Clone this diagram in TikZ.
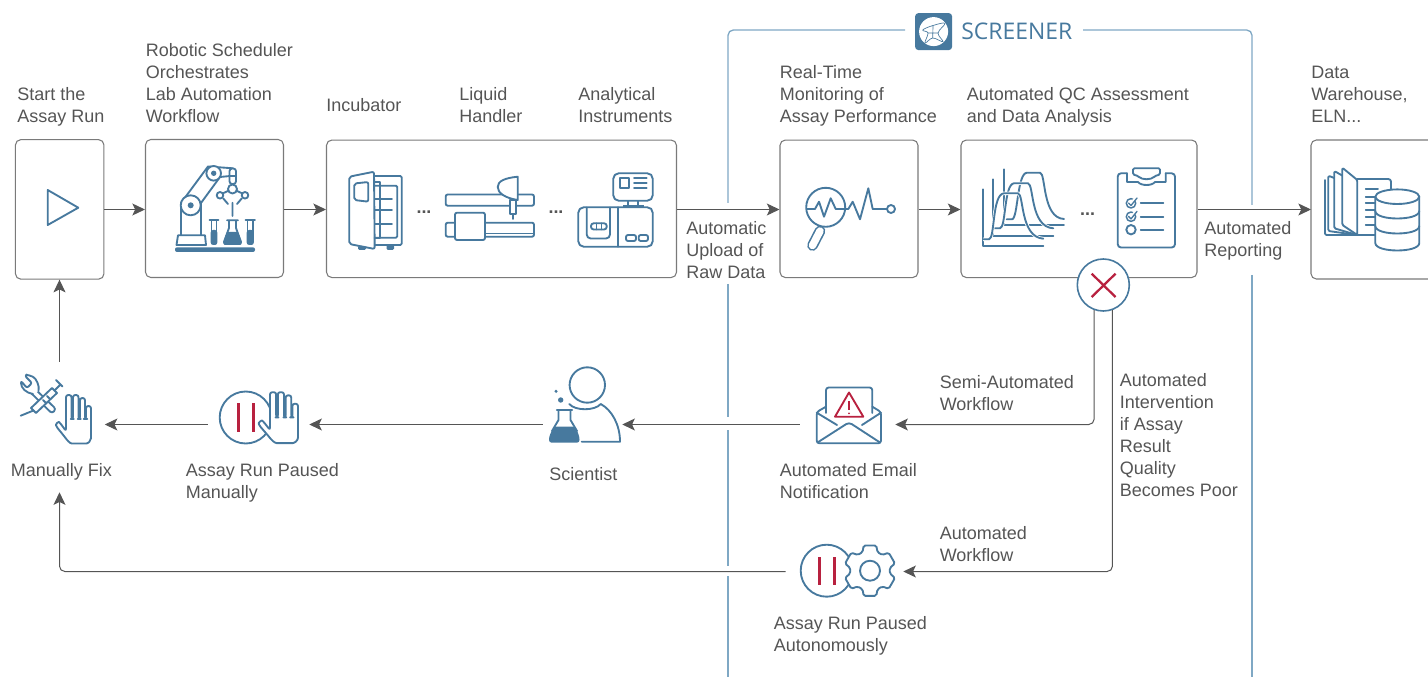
\documentclass[tikz,border=0pt]{standalone}
\usepackage{fontspec}
\setmainfont{Liberation Sans}
\newfontfamily\logofont{Open Sans}
\usetikzlibrary{arrows.meta,calc}
\definecolor{iblue}{HTML}{47799E}
\definecolor{fblue}{HTML}{7FA8C4}
\definecolor{ired}{HTML}{B8213F}
\definecolor{tgray}{HTML}{555555}
\definecolor{bgray}{HTML}{7A7A7A}
\tikzset{
  boxnode/.style 2 args={draw=bgray,line width=0.8pt,rounded corners=4pt,fill=white,inner sep=0pt,minimum width=#1*0.75pt,minimum height=#2*0.75pt},
  anch/.style 2 args={inner sep=0pt,minimum width=#1*0.75pt,minimum height=#2*0.75pt},
  lbl/.style={font=\fontsize{13.5}{16.5}\selectfont,text=tgray,align=left,inner sep=0pt,anchor=north west,execute at begin node=\strut},
  conn/.style={draw=tgray,line width=0.75pt,-{Stealth[length=9.5pt,width=9pt,inset=2.2pt]}},
  ico/.style={draw=iblue,line width=1.4pt,line join=round,line cap=round},
  icow/.style={ico,fill=white},
  icof/.style={fill=iblue,draw=iblue,line width=0.6pt,line join=round},
  redl/.style={draw=ired,line width=1.9pt},
  frameln/.style={draw=fblue,line width=1pt},
  dotsl/.style={font=\fontsize{13.4}{16.5}\selectfont\bfseries,text=tgray,inner sep=0pt},
  pics/handicon/.style={code={
    \path[icow,rounded corners=1.7pt] (0,0) -- (0,-36) -- (5.5,-36) -- (5.5,-12) -- (7,-12) -- (7,-36) -- (12.5,-36) -- (12.5,-12) -- (14,-12) -- (14,-33) -- (19,-33) -- (19,-12) -- (20,-12) -- (20,-25) -- (25,-25) -- (25,5) .. controls (25,10) and (22,12.5) .. (18,12.5) -- (8,12.5) .. controls (4,12.5) and (1,9) .. (-2,5) -- (-9.3,-4) .. controls (-10.5,-7) and (-7.5,-9.5) .. (-5.5,-7.5) -- cycle;
  }}
}
\begin{document}
\begin{tikzpicture}[x=0.75pt,y=-0.75pt]
\useasboundingbox (0,0) rectangle (1428,677);
% SCREENER frame
\draw[frameln,rounded corners=4pt] (905,30) -- (728,30) -- (728,203);
\draw[frameln] (728,284) -- (728,417);
\draw[frameln] (728,430) -- (728,566);
\draw[frameln] (728,576) -- (728,677);
\draw[frameln,rounded corners=4pt] (1083,30) -- (1252,30) -- (1252,205);
\draw[frameln] (1252,275) -- (1252,677);
% logo
\node[fill=iblue,rounded corners=2.5pt,anch={37}{37}] (logo) at (933.6,31.6) {};
\fill[white] (logo.center) circle[radius=14.5];
\draw[draw=iblue,line width=0.5pt,line join=round] plot[smooth cycle,tension=0.6] coordinates {(922.7,30) (933,25.5) (945,23.3) (938,33) (943,41.7) (932.7,38) (925,43) (928,33)};
\draw[draw=iblue,line width=0.5pt] (928,33) -- (938,33) (933,25.5) -- (932.7,38);
\node[font=\fontsize{17.2}{20}\selectfont\logofont,text=iblue,inner sep=0pt,anchor=west] (scrtitle) at (961,31) {SCREENER};
% boxes
\node[boxnode={88.5}{139.5}] (start) at (59.7,209.4) {};
\node[boxnode={138}{138}] (robot) at (214.5,208.5) {};
\node[boxnode={350}{137.5}] (incub) at (501.5,208.8) {};
\node[boxnode={138}{137.5}] (monit) at (849,208.8) {};
\node[boxnode={236}{137.5}] (qc) at (1079,208.8) {};
\draw[draw=bgray,line width=0.8pt,rounded corners=4pt] (1428,140) -- (1311,140) -- (1311,279) -- (1428,279);
\coordinate (dw) at (1311,209.5);
% anchors for the open icons
\node[anch={90}{130}] (fix) at (59.5,427) {};
\node[anch={101}{60}] (paus) at (258.5,424.5) {};
\node[anch={79}{60}] (sci) at (582.5,424.5) {};
\node[anch={95}{60}] (email) at (847.5,424.5) {};
\node[anch={117}{60}] (autop) at (844.5,571.5) {};
% X circle
\node[circle,draw=iblue,line width=1.2pt,fill=white,inner sep=0pt,minimum size=39pt] (xc) at (1103.3,285) {};
\draw[draw=ired,line width=1.7pt] (1091.7,273.7) -- (1115.5,297) (1115.5,273.7) -- (1091.7,297);
% connectors
\draw[conn] (start.east |- 0,209.5) -- (robot.west |- 0,209.5);
\draw[conn] (robot.east |- 0,209.5) -- (incub.west |- 0,209.5);
\draw[conn] (incub.east |- 0,209.5) -- (monit.west |- 0,209.5);
\draw[conn] (monit.east |- 0,209.5) -- (qc.west |- 0,209.5);
\draw[conn] (qc.east |- dw) -- (dw);
\draw[conn] (fix.north) -- (start.south -| fix.north);
\draw[conn,rounded corners=4pt] (xc.-110) |- (email.east);
\draw[conn,rounded corners=4pt] (xc.-70) |- (autop.east);
\draw[conn] (email.west) -- (sci.east);
\draw[conn] (sci.west) -- (paus.east);
\draw[conn] (paus.west) -- (paus.west -| fix.east);
\draw[conn,rounded corners=4pt] (autop.west) -| (fix.south);
% play
\draw[ico] (47.7,190) -- (78.3,207.7) -- (47.7,225) -- cycle;
% robot
\fill[iblue,rounded corners=1.5pt] (175,247.3) rectangle (255,252);
\draw[ico] (176.5,245) -- (178,235.3) -- (205,235.3) -- (206,245) -- cycle;
\draw[ico] (181,235) -- (181,203) -- (208,166.5) -- (233,168.3);
\draw[ico] (201,235) -- (201,203) -- (220,177) -- (230,176);
\draw[icow] (190.7,205.3) circle[radius=10];
\fill[iblue] (190.7,205.3) circle[radius=3];
\draw[icow] (213.7,173.3) circle[radius=7.3];
\fill[iblue] (213.7,173.3) circle[radius=2.7];
\draw[icow,rounded corners=2pt] (229.5,168.5) rectangle (236,184);
\draw[ico] (229.5,176) -- (236,176);
\draw[ico] (222.5,193.5) -- (229,190.5) (242.5,193.5) -- (236,190.5);
\draw[icow] (232.5,189) circle[radius=4.5];
\draw[icow] (220,195.3) circle[radius=3.3];
\draw[icow] (245,195.3) circle[radius=3.3];
\draw[ico] (223.3,198.5) -- (228,204) (241.7,198.5) -- (237,204) (232.5,202.7) -- (232.5,216);
\draw[ico] (227,220.3) -- (238,220.3) (229,220.3) -- (229,228) -- (224,242) -- (225,244) -- (240,244) -- (241,242) -- (236,228) -- (236,220.3);
\fill[iblue,rounded corners=1pt] (226.8,232) -- (238.2,232) -- (242,243) -- (241,245) -- (224,245) -- (223,243) -- cycle;
\draw[ico] (209.5,220.3) -- (218.5,220.3) (211.5,220.3) -- (211.5,241.5) (216.5,220.3) -- (216.5,241.5);
\fill[iblue,rounded corners=1.8pt] (210.7,230) rectangle (217.3,245);
\draw[ico] (245.5,220.3) -- (255,220.3) (247.5,220.3) -- (247.5,241.5) (253,220.3) -- (253,241.5);
\fill[iblue,rounded corners=1.8pt] (246.7,230) rectangle (253.8,245);
% incubator
\draw[ico,rounded corners=1pt] (374.7,176) -- (401.7,176) -- (401.7,245) -- (374.7,245);
\draw[ico,rounded corners=1pt] (375,185.7) -- (397.3,185.7) -- (397.3,237.7) -- (375,237.7);
\draw[ico] (375,199) -- (392,199) (375,210) -- (392,210) (375,224) -- (392,224);
\fill[iblue,rounded corners=1pt] (358,246) rectangle (366,250);
\fill[iblue,rounded corners=1pt] (386.5,245) rectangle (394,250);
\draw[icow,rounded corners=1.5pt] (349.3,176.7) -- (374,171.7) -- (374.7,249) -- (349.3,244) -- cycle;
\draw[ico,rounded corners=1.5pt] (354.3,183.5) -- (368.3,182) -- (368.3,201.7) -- (354.3,200) -- cycle;
\draw[ico] (374.5,182) -- (380,182) -- (380,238) -- (374.5,238);
\node[dotsl] (dots1) at (424,212.5) {...};
% liquid handler
\draw[icow,rounded corners=1.5pt] (445.7,194.5) rectangle (534,205.7);
\draw[icow] (510.3,200) rectangle (516,214);
\draw[ico] (513,214) -- (513,219);
\draw[icow] (517.7,176.7) .. controls (505,178) and (497.7,181) .. (497.7,187) .. controls (497.7,193) and (505,198) .. (517.7,200) -- cycle;
\draw[icow,rounded corners=1.5pt] (445.7,222.7) rectangle (534,236.7);
\draw[ico] (485,233.5) -- (534,233.5);
\draw[icow,rounded corners=1.5pt] (455,212.7) rectangle (485,240);
\node[dotsl] (dots2) at (556,212.5) {...};
% instrument
\draw[ico,rounded corners=4pt] (613.3,173.3) rectangle (652.7,200.7);
\draw[ico] (620,178.3) rectangle (629,187.7);
\draw[ico] (634,178.3) -- (646.7,178.3) (634,182.7) -- (646.7,182.7) (634,187.7) -- (646.7,187.7);
\draw[ico] (628,201) -- (628,206) (638,201) -- (638,206);
\fill[iblue] (622.5,205) rectangle (644,207.5);
\draw[ico,rounded corners=4pt] (578.3,207.3) rectangle (652.7,246.7);
\draw[ico] (618.3,207.3) -- (618.3,246.7);
\draw[ico,rounded corners=3pt] (586.7,207.5) -- (586.7,238.5) -- (610,238.5) -- (610,207.5);
\draw[ico,rounded corners=2pt] (591,223.3) rectangle (606.7,229.5);
\draw[ico] (596.5,223.3) -- (596.5,229.5) (601.5,223.3) -- (601.5,229.5);
\draw[ico,rounded corners=1.5pt] (626,235) rectangle (636,241);
\draw[ico,rounded corners=1.5pt] (638.7,235) rectangle (648,241);
% monitoring
\draw[draw=iblue,line width=8pt,line cap=round] (820,231) -- (812.5,245.5);
\draw[draw=white,line width=5.6pt,line cap=round] (820,231) -- (812.5,245.5);
\draw[ico] (825.7,207.3) circle[radius=19.5];
\draw[ico] (807.3,209) -- (815,209) -- (819,201.7) -- (824,216.7) -- (830.7,198.3) -- (835.7,209) -- (848.3,209) -- (852.7,201.7) -- (860,219.3) -- (868.3,188.3) -- (872.7,209) -- (886.7,209);
\draw[icow] (891,209) circle[radius=4];
% QC curves
\draw[ico] (1004,169.3) -- (1004,225) -- (1064,225);
\draw[draw=white,line width=2.6pt] (1006.7,219.3) -- (1012,219.3) .. controls (1018,219) and (1017,173) .. (1027,172.7) -- (1040,172.7) .. controls (1046,173) and (1042,218) .. (1064,219);
\draw[ico] (1006.7,219.3) -- (1012,219.3) .. controls (1018,219) and (1017,173) .. (1027,172.7) -- (1040,172.7) .. controls (1046,173) and (1042,218) .. (1064,219);
\draw[draw=white,line width=2.6pt] (993.3,179.3) -- (993.3,236) -- (1053.3,236);
\draw[ico] (993.3,179.3) -- (993.3,236) -- (1053.3,236);
\draw[draw=white,line width=2.6pt] (994,228.3) -- (1000,228.3) .. controls (1006,228) and (1004,184) .. (1014,183.3) -- (1028,183.3) .. controls (1034,184) and (1030,227) .. (1053.3,228.3);
\draw[ico] (994,228.3) -- (1000,228.3) .. controls (1006,228) and (1004,184) .. (1014,183.3) -- (1028,183.3) .. controls (1034,184) and (1030,227) .. (1053.3,228.3);
\draw[draw=white,line width=2.6pt] (982.7,189.3) -- (982.7,246) -- (1043.3,246);
\draw[ico] (982.7,189.3) -- (982.7,246) -- (1043.3,246);
\draw[draw=white,line width=2.6pt] (983,239.3) -- (989,239.3) .. controls (995,239) and (992,194) .. (1004,193.3) -- (1018,193.3) .. controls (1024,194) and (1020,237) .. (1043.3,238.7);
\draw[ico] (983,239.3) -- (989,239.3) .. controls (995,239) and (992,194) .. (1004,193.3) -- (1018,193.3) .. controls (1024,194) and (1020,237) .. (1043.3,238.7);
\node[dotsl] (dots3) at (1087.5,214.5) {...};
% clipboard
\draw[ico,rounded corners=2.5pt] (1127,173.3) -- (1117.7,173.3) -- (1117.7,247.5) -- (1175,247.5) -- (1175,173.3) -- (1165.7,173.3);
\draw[ico] (1127,173.3) -- (1127,182) -- (1138,182) .. controls (1141,186) and (1152,186) .. (1155,182) -- (1165.7,182) -- (1165.7,173.3);
\draw[ico,rounded corners=1pt] (1133,168.3) -- (1160,168.3) -- (1160,174.5) -- (1155,176) .. controls (1151,180) and (1142,180) .. (1138,176) -- (1133,174.5) -- cycle;
\draw[ico,line width=1.1pt] (1131,203.3) circle[radius=4.7];
\draw[ico,line width=1.1pt] (1131,216.7) circle[radius=4.7];
\draw[ico] (1131,229.7) circle[radius=4.7];
\draw[draw=white,line width=2pt] (1133,201) -- (1137,197) (1133,214.4) -- (1137,210.4);
\draw[ico,line width=1pt] (1128.5,203) -- (1131,205.5) -- (1137,198);
\draw[ico,line width=1pt] (1128.5,216.4) -- (1131,218.9) -- (1137,211.4);
\draw[ico] (1140.7,203.3) -- (1163.3,203.3) (1140.7,216.7) -- (1163.3,216.7) (1140.7,229.7) -- (1163.3,229.7);
% data warehouse
\draw[ico,rounded corners=1pt] (1325,180) -- (1325,235) -- (1357.3,235);
\draw[icow,rounded corners=1pt] (1328.3,175.7) -- (1342,181) -- (1342,226) -- (1357,235) -- (1328.3,231) -- cycle;
\draw[icow,rounded corners=1pt] (1334.3,171) -- (1350,180) -- (1350,226) -- (1357,235) -- (1334.3,228.3) -- cycle;
\draw[icow,rounded corners=1pt] (1342.3,167.7) -- (1357.3,180) -- (1357.3,235) -- (1342.3,225) -- cycle;
\draw[ico,rounded corners=2pt] (1357.3,179) -- (1391,179) -- (1391,192);
\draw[ico] (1357.3,235) -- (1376,235);
\draw[ico] (1365.7,189) -- (1378,189) (1365.7,196.7) -- (1375,196.7) (1365.7,203.3) -- (1375,203.3) (1365.7,210) -- (1375,210) (1365.7,217.3) -- (1375,217.3) (1365.7,225) -- (1375,225);
\draw[icow] (1375.3,196.7) -- (1375.3,243) .. controls (1375.3,253) and (1419.3,253) .. (1419.3,243) -- (1419.3,196.7) -- cycle;
\draw[icow] (1397.3,196.7) ellipse[x radius=22,y radius=7.3];
\draw[ico] (1375.3,211) .. controls (1375.3,221) and (1419.3,221) .. (1419.3,211);
\draw[ico] (1375.3,226) .. controls (1375.3,236) and (1419.3,236) .. (1419.3,226);
% scientist
\draw[ico] (587.3,385) circle[radius=17.7];
\draw[ico] (569.3,404) .. controls (575,411) and (595,411) .. (600.7,404) .. controls (612,410) and (620,425) .. (620,441.7) -- (581.7,441.7);
\fill[iblue] (560.7,400) circle[radius=2.7];
\fill[iblue] (556,391.3) circle[radius=1.7];
\draw[ico] (556.7,410) -- (572.3,410) (558.5,410) -- (558.5,420) (570.5,410) -- (570.5,420) (558.5,420) -- (552,431) (570.5,420) -- (577,431);
\fill[iblue,rounded corners=2pt] (553.5,426.7) -- (575.5,426.7) -- (579.5,437) -- (579.5,442.7) -- (549,442.7) -- (549,437) -- cycle;
% email
\draw[ico,rounded corners=2pt] (826,413) -- (826,387.5) -- (872.3,387.5) -- (872.3,413);
\draw[ico,rounded corners=2pt] (826,406.7) -- (816.7,412) -- (816.7,443.3) -- (881,443.3) -- (881,412) -- (872.3,406.7);
\draw[ico] (816.7,412.7) -- (837,425) (881,412.7) -- (862,425);
\draw[ico,rounded corners=2.5pt] (817.5,442.5) -- (849,422.3) -- (880,442.5);
\draw[draw=ired,line width=1.4pt,line join=round] (849,392.5) -- (863.3,416.7) -- (835,416.7) -- cycle;
\draw[draw=ired,line width=1.3pt] (849,401) -- (849,410);
\fill[ired] (849,413.3) circle[radius=1];
% fix icon
\draw[icow,rounded corners=2pt] (34,388) -- (56,409) -- (52,413.5) -- (30,392);
\draw[icow,rounded corners=1.5pt] (38.5,391) .. controls (40,386) and (36,378) .. (31,376) .. controls (28,375) and (26,375) .. (25,376) -- (32,383) -- (27,388) -- (21,381) .. controls (21,388) and (26,393) .. (33,394);
\draw[icow] (31,408) -- (52,388) -- (57,393) -- (36,413) -- cycle;
\draw[ico] (33.5,410.5) -- (20.7,415.7);
\draw[ico] (54.5,390.5) -- (60,385) (56,380) -- (62.5,386.5) (43,400) -- (46,403) (47,396) -- (50,399);
\pic (handa) at (66,431) {handicon};
% pause + hand
\draw[ico] (245.7,417.5) circle[radius=26];
\draw[redl] (238.3,403.3) -- (238.3,431.7) (253.3,403.3) -- (253.3,431.7);
\pic[xscale=1.12,yscale=1.05] (handb) at (270,430) {handicon};
% pause + gear
\draw[ico] (826.7,570.7) circle[radius=26];
\draw[redl] (819.3,557.3) -- (819.3,585) (834.3,557.3) -- (834.3,585);
\begin{scope}[shift={(870,570.7)}]
\draw[icow,rounded corners=1.2pt] (76:26) \foreach \a in {90,150,210,270,330,30} { -- (\a-14:26) -- (\a+14:26) -- (\a+22:20) -- (\a+38:20)} -- cycle;
\draw[ico] (0,0) circle[radius=10];
\end{scope}
% texts
\node[lbl] (t1) at (17,87.6) {Start the\\Assay Run};
\node[lbl] (t2) at (145.5,43.6) {Robotic Scheduler\\Orchestrates\\Lab Automation\\Workflow};
\node[lbl] (t3) at (326,95.6) {Incubator};
\node[lbl] (t4) at (459,87.6) {Liquid\\Handler};
\node[lbl] (t5) at (578,87.6) {Analytical\\Instruments};
\node[lbl] (t6) at (779.5,65.6) {Real-Time\\Monitoring of\\Assay Performance};
\node[lbl] (t7) at (966.5,87.6) {Automated QC Assessment\\and Data Analysis};
\node[lbl] (t8) at (1311,65.6) {Data\\Warehouse,\\ELN...};
\node[lbl] (t9) at (686,221.6) {Automatic\\Upload of\\Raw Data};
\node[lbl] (t10) at (1204,221.6) {Automated\\Reporting};
\node[lbl] (t11) at (939.5,375.6) {Semi-Automated\\Workflow};
\node[lbl] (t12) at (1119.5,373.6) {Automated\\Intervention\\if Assay\\Result\\Quality\\Becomes Poor};
\node[lbl] (t13) at (939.5,526.6) {Automated\\Workflow};
\node[lbl] (t14) at (10.5,460.6) {Manually Fix};
\node[lbl] (t15) at (185.5,463.6) {Assay Run Paused\\Manually};
\node[lbl] (t16) at (549,464.6) {Scientist};
\node[lbl] (t17) at (779.5,463.6) {Automated Email\\Notification};
\node[lbl] (t18) at (773.5,616.6) {Assay Run Paused\\Autonomously};
\end{tikzpicture}
\end{document}
